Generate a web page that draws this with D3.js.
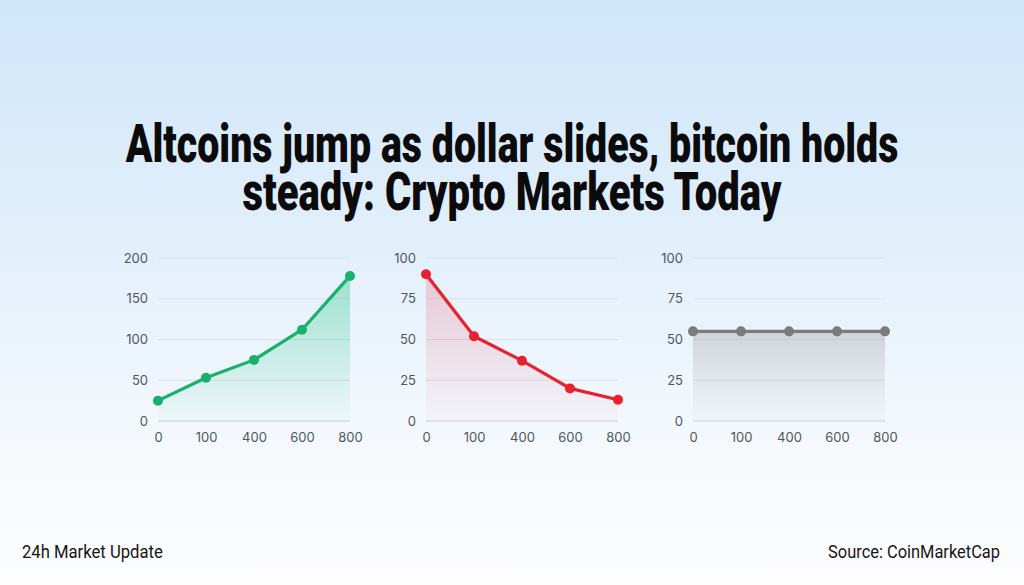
<!DOCTYPE html>
<html>
<head>
<meta charset="utf-8">
<script src="https://cdn.jsdelivr.net/npm/d3@7"></script>
<style>
  html, body { margin: 0; padding: 0; width: 1024px; height: 585px; overflow: hidden; }
  svg { display: block; }
</style>
</head>
<body>
<svg id="chart" width="1024" height="585"></svg>
<script>
// ---- data ----
const categories = ["0", "100", "400", "600", "800"];
const altcoinValues = [25, 53, 75, 112, 178];
const dollarValues = [90, 52, 37, 20, 13];
const bitcoinValues = [55, 55, 55, 55, 55];
const altcoinTicks = [0, 50, 100, 150, 200];
const pctTicks = [0, 25, 50, 75, 100];
const titleLines = ["Altcoins jump as dollar slides, bitcoin holds", "steady: Crypto Markets Today"];
const footerLeft = "24h Market Update";
const footerRight = "Source: CoinMarketCap";

const svg = d3.select("#chart");
const W = 1024, H = 585;
const defs = svg.append("defs");

// background gradient
const bg = defs.append("linearGradient").attr("id", "bg").attr("x1", 0).attr("y1", 0).attr("x2", 0).attr("y2", 1);
bg.append("stop").attr("offset", "0%").attr("stop-color", "#cfe6fb");
bg.append("stop").attr("offset", "45%").attr("stop-color", "#e4f0fb");
bg.append("stop").attr("offset", "80%").attr("stop-color", "#f7fafd");
bg.append("stop").attr("offset", "100%").attr("stop-color", "#fdfdfe");
svg.append("rect").attr("width", W).attr("height", H).attr("fill", "url(#bg)");

const condensed = "'Liberation Sans Narrow', 'Arial Narrow', 'Roboto', sans-serif";

// title: one text element, two lines, horizontally condensed
const titleWidths = [773, 539];
const title = svg.append("text")
  .attr("text-anchor", "middle")
  .attr("font-family", condensed)
  .attr("font-weight", 900)
  .attr("font-size", 53)
  .attr("fill", "#0b0b0c");
const t1 = title.append("tspan").attr("x", 0).attr("y", 0).text(titleLines[0]);
const t2 = title.append("tspan").attr("x", 0).attr("y", 48).text(titleLines[1]);
const w1 = t1.node().getComputedTextLength();
const sx = titleWidths[0] / w1;
t2.attr("textLength", titleWidths[1] / sx).attr("lengthAdjust", "spacingAndGlyphs");
title.attr("transform", `translate(512,162) scale(${sx},1)`);

// footer
function condensedText(str, xPos, anchor, targetW) {
  const t = svg.append("text").attr("font-family", condensed).attr("font-size", 18)
    .attr("fill", "#161616").attr("text-anchor", anchor).text(str);
  const s = targetW / t.node().getComputedTextLength();
  t.attr("transform", `translate(${xPos},558) scale(${s},1)`);
}
condensedText(footerLeft, 22, "start", 141);
condensedText(footerRight, 1000, "end", 172);

// panels
const panels = [
  { id: "g1", left: 158, values: altcoinValues, ticks: altcoinTicks, max: 200, color: "#18b16b", fillTop: "rgba(40,200,130,0.38)", fillBot: "rgba(40,200,130,0.02)" },
  { id: "g2", left: 426, values: dollarValues, ticks: pctTicks, max: 100, color: "#e8202f", fillTop: "rgba(235,80,100,0.25)", fillBot: "rgba(235,80,100,0.02)" },
  { id: "g3", left: 693, values: bitcoinValues, ticks: pctTicks, max: 100, color: "#7a7b7d", fillTop: "rgba(170,172,176,0.45)", fillBot: "rgba(200,202,206,0.08)" }
];
const pw = 192, plotTop = 258, plotBottom = 421;

panels.forEach(p => {
  const x = d3.scalePoint().domain(categories).range([p.left, p.left + pw]);
  const y = d3.scaleLinear().domain([0, p.max]).range([plotBottom, plotTop]);

  const gr = defs.append("linearGradient").attr("id", p.id).attr("gradientUnits", "userSpaceOnUse")
    .attr("x1", 0).attr("y1", y(d3.max(p.values))).attr("x2", 0).attr("y2", plotBottom);
  gr.append("stop").attr("offset", "0%").attr("stop-color", p.fillTop);
  gr.append("stop").attr("offset", "100%").attr("stop-color", p.fillBot);

  const g = svg.append("g");

  // grid lines
  g.selectAll(".grid").data(p.ticks).enter().append("line")
    .attr("x1", p.left).attr("x2", p.left + pw)
    .attr("y1", d => y(d)).attr("y2", d => y(d))
    .attr("stroke", d => d === 0 ? "#c9ced5" : "#dbe0e6")
    .attr("stroke-width", 1);

  // y axis
  const ya = g.append("g").attr("transform", `translate(${p.left},0)`)
    .call(d3.axisLeft(y).tickValues(p.ticks).tickSize(0).tickPadding(10));
  ya.select(".domain").remove();
  ya.selectAll("text").attr("font-family", "Inter, 'Noto Sans', sans-serif").attr("font-size", 13).attr("fill", "#50565f");

  // x axis
  const xa = g.append("g").attr("transform", `translate(0,${plotBottom})`)
    .call(d3.axisBottom(x).tickSize(0).tickPadding(12));
  xa.select(".domain").remove();
  xa.selectAll("text").attr("font-family", "Inter, 'Noto Sans', sans-serif").attr("font-size", 13).attr("fill", "#50565f");

  // area
  const area = d3.area().x((d, i) => x(categories[i])).y0(plotBottom).y1(d => y(d));
  g.append("path").datum(p.values).attr("d", area).attr("fill", `url(#${p.id})`);

  // line
  const line = d3.line().x((d, i) => x(categories[i])).y(d => y(d));
  g.append("path").datum(p.values).attr("d", line)
    .attr("fill", "none").attr("stroke", p.color).attr("stroke-width", 3.2)
    .attr("stroke-linejoin", "round").attr("stroke-linecap", "round");

  // dots
  g.selectAll(".dot").data(p.values).enter().append("circle")
    .attr("cx", (d, i) => x(categories[i])).attr("cy", d => y(d))
    .attr("r", 5).attr("fill", p.color);
});
</script>
</body>
</html>
